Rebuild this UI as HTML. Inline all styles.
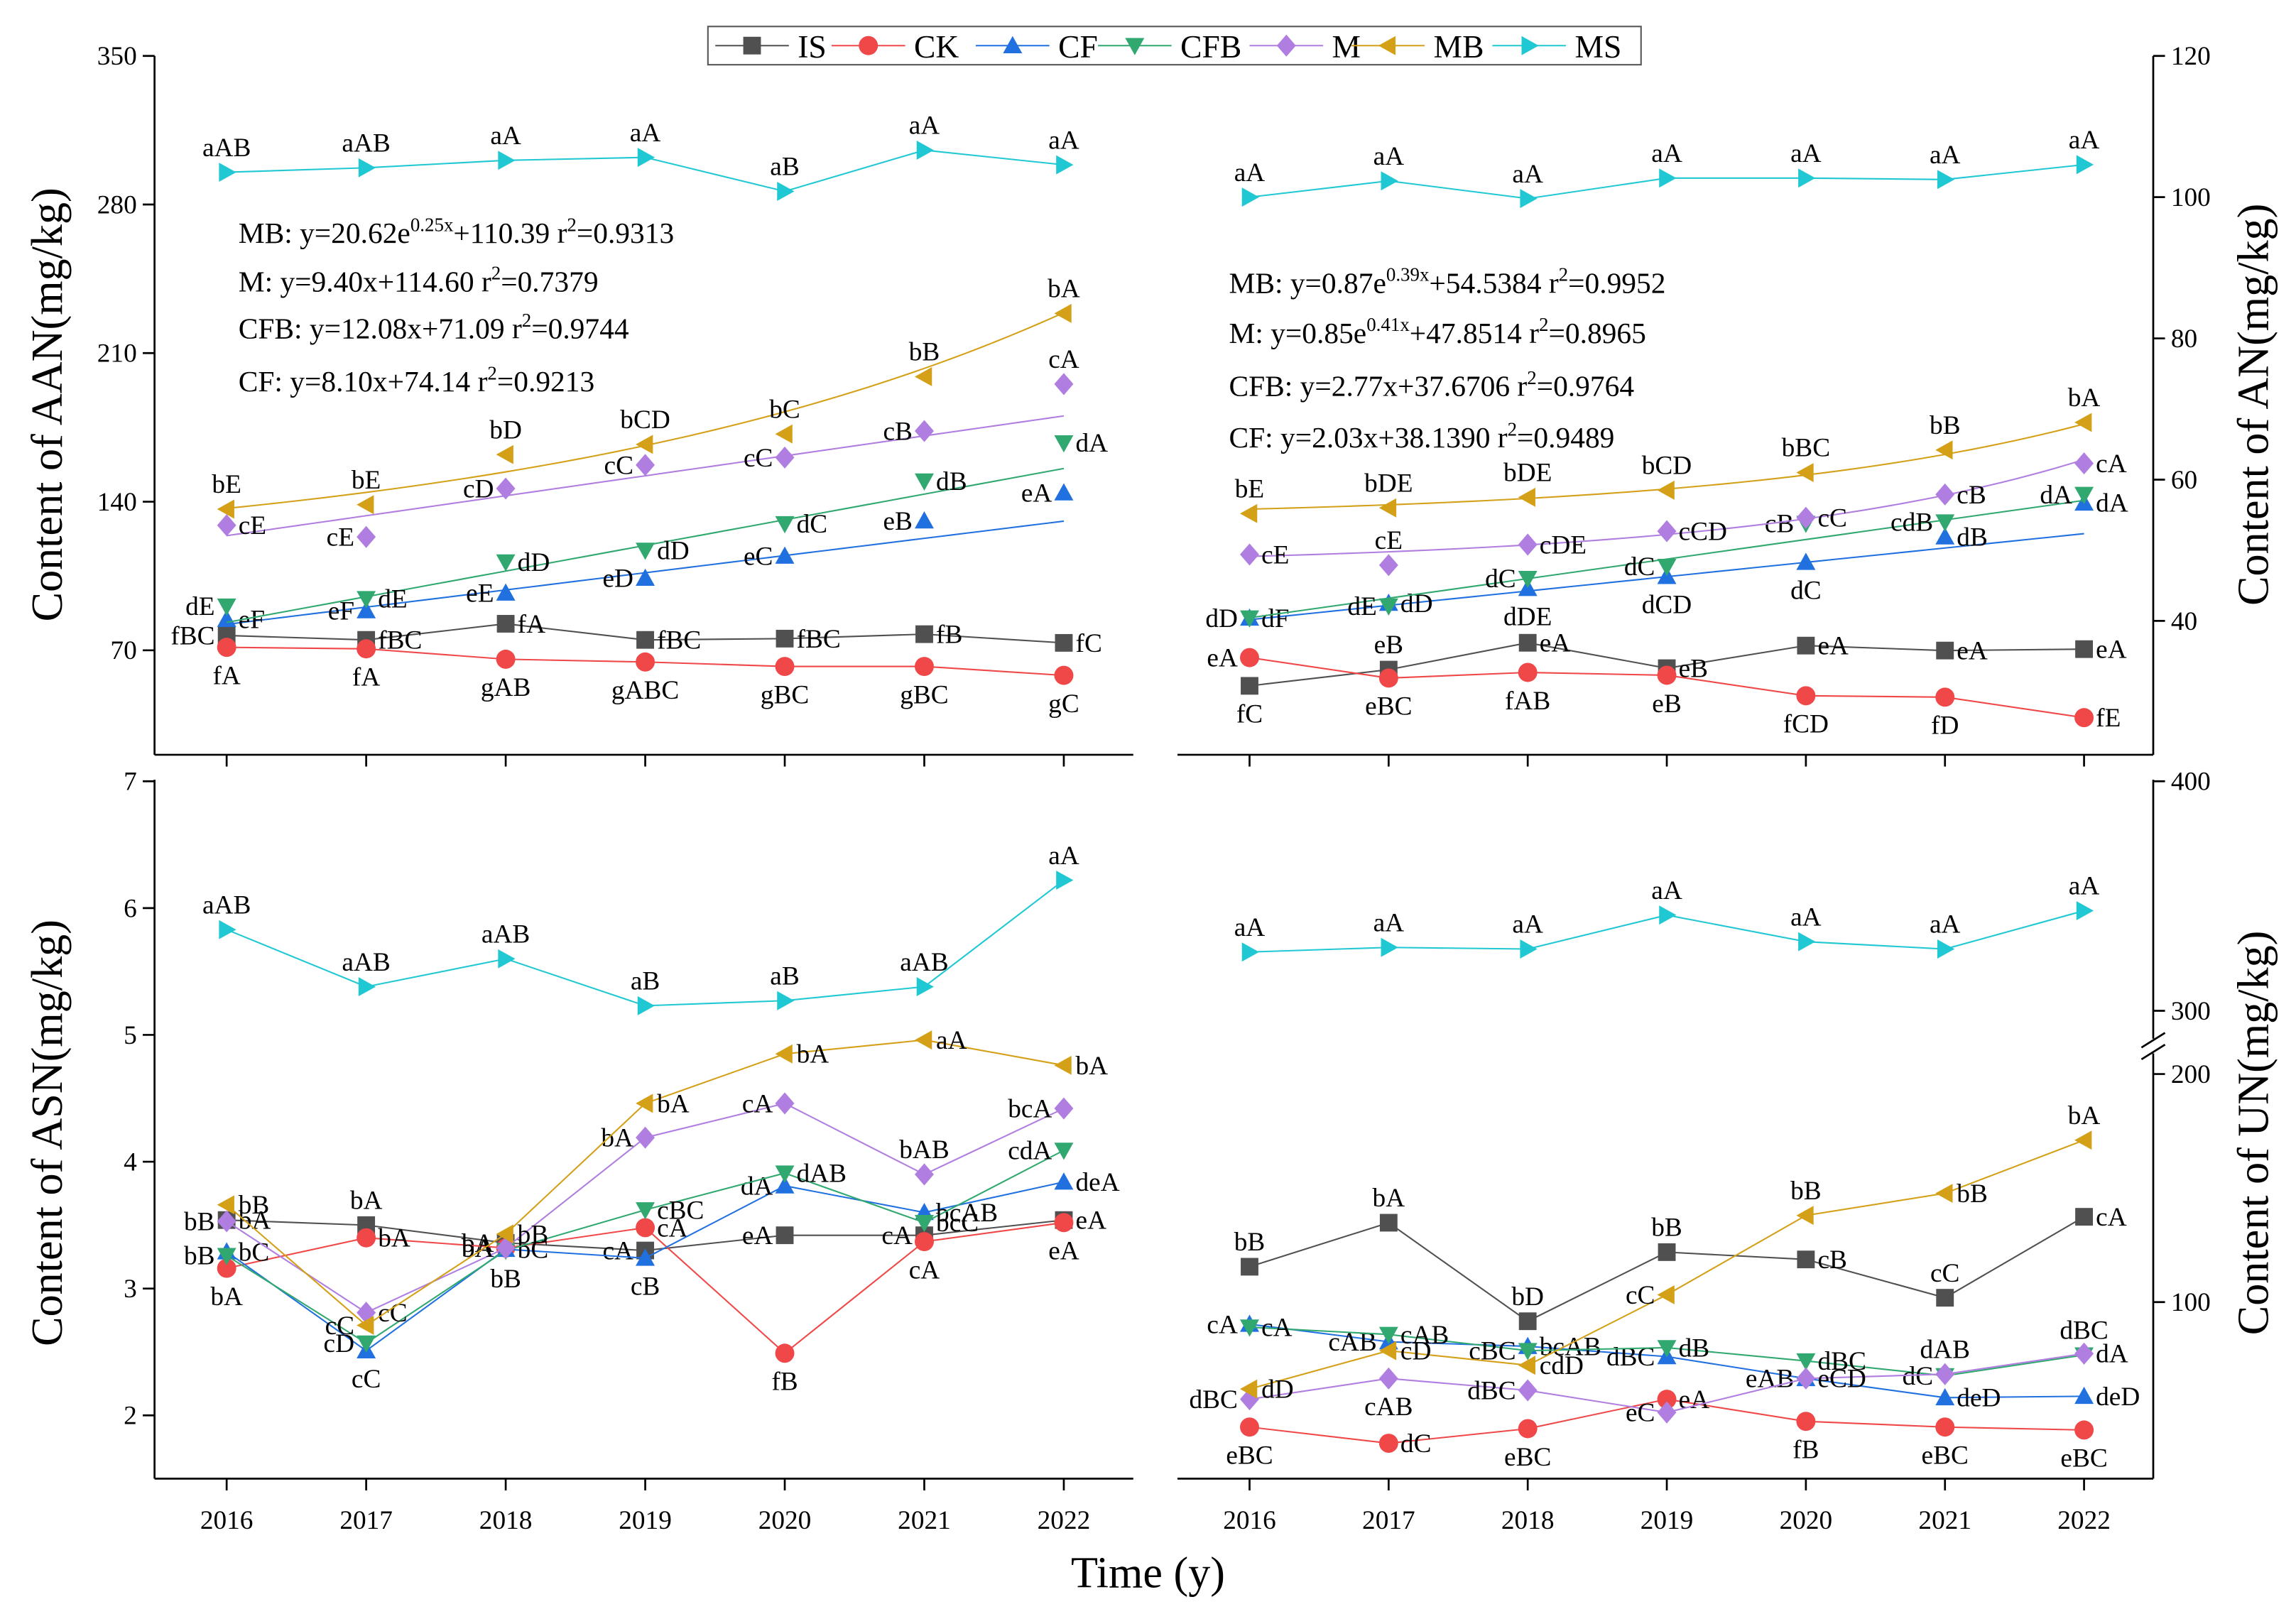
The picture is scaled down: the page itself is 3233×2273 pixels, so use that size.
<!DOCTYPE html>
<html><head><meta charset="utf-8"><style>
html,body{margin:0;padding:0;background:#fff;}
svg{display:block;font-family:"Liberation Serif",serif;}
svg text{font-family:"Liberation Serif",serif;}
</style></head><body>
<svg id="chart" xmlns="http://www.w3.org/2000/svg" width="3233" height="2273" viewBox="0 0 1560 1097" preserveAspectRatio="none"></svg>
<script>
const years=[2016,2017,2018,2019,2020,2021,2022];
const seriesNames=['IS','CK','CF','CFB','M','MB','MS'];
// AAN (top-left)
const aan_IS=[77,74.9,82.5,74.9,75.5,77.6,73.5];
const aan_CK=[71.4,70.7,65.8,64.5,62.4,62.4,58.2];
const aan_CF=[84.6,88.7,97,104,114.4,131,144.2];
const aan_CFB=[90.8,94.3,111.6,117.1,129.6,149.7,167.7];
const aan_M=[128.9,123.4,146.2,157.3,160.8,173.3,195.4];
const aan_MB=[136.5,138.6,162.2,167,171.9,198.9,228.7];
const aan_MS=[295.2,297.3,300.8,302.2,286.2,305.6,298.7];
// AN (top-right)
const an_IS=[30.8,33.1,36.9,33.3,36.5,35.8,36];
const an_CK=[34.8,31.9,32.7,32.3,29.4,29.2,26.3];
const an_CF=[40.4,42.5,44.6,46.3,48.3,51.9,56.7];
const an_CFB=[40.4,42.1,46,47.7,53.8,54,57.9];
const an_M=[49.4,47.9,50.8,52.7,54.6,57.9,62.3];
const an_MB=[55.2,56,57.5,58.5,61,64.2,68.1];
const an_MS=[100,102.3,99.8,102.7,102.7,102.5,104.6];
// ASN (bottom-left)
const asn_IS=[3.54,3.5,3.36,3.3,3.42,3.42,3.54];
const asn_CK=[3.16,3.4,3.32,3.48,2.49,3.37,3.52];
const asn_CF=[3.29,2.51,3.31,3.24,3.81,3.6,3.84];
const asn_CFB=[3.26,2.57,3.3,3.62,3.91,3.52,4.09];
const asn_M=[3.53,2.81,3.32,4.19,4.46,3.9,4.42];
const asn_MB=[3.66,2.71,3.43,4.46,4.85,4.96,4.76];
const asn_MS=[5.83,5.38,5.6,5.23,5.27,5.38,6.22];
// UN (bottom-right)
const un_IS=[115.5,134.8,91.6,121.9,118.7,101.9,137.4];
const un_CK=[45.2,38.1,44.5,57.4,47.7,45.2,43.9];
const un_CF=[90.3,82.6,80.6,76.1,66.5,58.1,58.7];
const un_CFB=[89,85.8,78.7,80,74.2,67.7,76.8];
const un_M=[57.4,66.5,61.3,51.6,66.5,68.4,77.4];
const un_MB=[61.9,78.7,72.3,103.2,138,147.7,171];
const un_MS=[325.6,327.6,326.9,341.7,330.1,326.9,343.6];
// tick labels
const aanTicks=[70,140,210,280,350];
const anTicks=[40,60,80,100,120];
const asnTicks=[2,3,4,5,6,7];
const unTicks=[100,200,300,400];
// significance letters
const aanLab={IS:['fBC','fBC','fA','fBC','fBC','fB','fC'],CK:['fA','fA','gAB','gABC','gBC','gBC','gC'],CF:['eF','eF','eE','eD','eC','eB','eA'],CFB:['dE','dE','dD','dD','dC','dB','dA'],M:['cE','cE','cD','cC','cC','cB','cA'],MB:['bE','bE','bD','bCD','bC','bB','bA'],MS:['aAB','aAB','aA','aA','aB','aA','aA']};
const anLab={IS:['fC','eB','eA','eB','eA','eA','eA'],CK:['eA','eBC','fAB','eB','fCD','fD','fE'],CF:['dF','dD','dDE','dCD','dC','dB','dA'],CFB:['dD','dE','dC','dC','cB','cdB','dA'],M:['cE','cE','cDE','cCD','cC','cB','cA'],MB:['bE','bDE','bDE','bCD','bBC','bB','bA'],MS:['aA','aA','aA','aA','aA','aA','aA']};
const asnLab={IS:['bA','bA','bA','cA','eA','cA','eA'],CK:['bA','bA','bA','cA','fB','cA','eA'],CF:['bC','cC','bC','cB','dA','bcAB','deA'],CFB:['bB','cD','bB','cBC','dAB','bcC','cdA'],M:['bB','cC','bA','bA','cA','bAB','bcA'],MB:['bB','cC','bB','bA','bA','aA','bA'],MS:['aAB','aAB','aAB','aB','aB','aAB','aA']};
const unLab={IS:['bB','bA','bD','bB','cB','cC','cA'],CK:['eBC','dC','eBC','eA','fB','eBC','eBC'],CF:['cA','cAB','bcAB','dBC','eAB','deD','deD'],CFB:['cA','cAB','cBC','dB','dBC','dC','dBC'],M:['dBC','cAB','dBC','eC','eCD','dAB','dA'],MB:['dD','cD','cdD','cC','bB','bB','bA'],MS:['aA','aA','aA','aA','aA','aA','aA']};
// label placement codes (a above, b below, l left, r right)
const aanPos={IS:['l','r','r','r','r','r','r'],CK:['b','b','b','b','b','b','b'],CF:['r','l','l','l','l','l','l'],CFB:['l','r','r','r','r','r','r'],M:['r','l','l','l','l','l','a'],MB:['a','a','a','a','a','a','a'],MS:['a','a','a','a','a','a','a']};
const anPos={IS:['b','a','r','r','r','r','r'],CK:['l','b','b','b','b','b','r'],CF:['r','r','b','b','b','r','r'],CFB:['l','l','l','l','l','l','l'],M:['r','a','r','r','r','r','r'],MB:['a','a','a','a','a','a','a'],MS:['a','a','a','a','a','a','a']};
const asnPos={IS:['r','a','l','l','l','l','r'],CK:['b','r','l','r','b','b','b'],CF:['r','b','r','b','l','r','r'],CFB:['l','l','b','r','r','r','l'],M:['l','r','l','l','l','a','l'],MB:['r','l','r','r','r','r','r'],MS:['a','a','a','a','a','a','a']};
const unPos={IS:['a','a','a','a','r','a','r'],CK:['b','r','b','r','b','b','b'],CF:['l','l','r','l','l','r','r'],CFB:['r','r','l','r','r','l','a'],M:['l','b','l','l','r','a','r'],MB:['r','r','r','l','a','r','a'],MS:['a','a','a','a','a','a','a']};

const colors={IS:'#505050',CK:'#f04848',CF:'#2070e0',CFB:'#30a870',M:'#b07ee0',MB:'#d4a018',MS:'#20c8d4'};
const NS='http://www.w3.org/2000/svg';
const svg=document.getElementById('chart');
function el(tag,attrs,parent){const e=document.createElementNS(NS,tag);for(const k in attrs)e.setAttribute(k,attrs[k]);(parent||svg).appendChild(e);return e;}
function txt(s,x,y,size,anchor,parent,extra){const t=el('text',Object.assign({x:x,y:y,'font-size':size,'text-anchor':anchor||'middle',fill:'#000','font-family':'Liberation Serif, serif'},extra||{}),parent);t.textContent=s;return t;}

const xL=i=>154+i*94.8;
const xR=i=>849+i*94.5;
const yAAN=v=>442-(v-70)*101/70;
const yAN=v=>422-(v-40)*96/20;
const yASN=v=>962-(v-2)*86.2;
const yUN=v=>v>=250?687-(v-300)*1.56:885-(v-100)*1.55;

function marker(g,s,x,y){
  const c=colors[s],r=6.5;let e;
  if(s==='IS')e=el('rect',{x:x-r+0.5,y:y-r+0.5,width:2*r-1,height:2*r-1,fill:c},g);
  else if(s==='CK')e=el('circle',{cx:x,cy:y,r:r,fill:c},g);
  else if(s==='CF')e=el('polygon',{points:`${x},${y-r} ${x+r},${y+r*0.8} ${x-r},${y+r*0.8}`,fill:c},g);
  else if(s==='CFB')e=el('polygon',{points:`${x},${y+r} ${x+r},${y-r*0.8} ${x-r},${y-r*0.8}`,fill:c},g);
  else if(s==='M')e=el('polygon',{points:`${x},${y-r-1} ${x+r},${y} ${x},${y+r+1} ${x-r},${y}`,fill:c},g);
  else if(s==='MB')e=el('polygon',{points:`${x-r},${y} ${x+r*0.8},${y-r} ${x+r*0.8},${y+r}`,fill:c},g);
  else e=el('polygon',{points:`${x+r},${y} ${x-r*0.8},${y-r} ${x-r*0.8},${y+r}`,fill:c},g);
  return e;
}
function label(g,s,x,y,p){
  if(p==='a')txt(s,x,y-11,18,'middle',g);
  else if(p==='b')txt(s,x,y+25,18,'middle',g);
  else if(p==='l')txt(s,x-8,y+6,18,'end',g);
  else txt(s,x+8,y+6,18,'start',g);
}

function panel(name,data,labs,pos,xf,yf,fits){
  const g=el('g',{});
  
  
  seriesNames.forEach(s=>{
    const vals=data[s];
    const sg=el('g',{},g);
    
    
    let d='';
    if(fits&&fits[s]){
      for(let k=0;k<=60;k++){const t=1+k*6/60;d+=(k?'L':'M')+(xf(t-1)).toFixed(2)+','+yf(fits[s](t)).toFixed(2);}
    } else {
      vals.forEach((v,i)=>{d+=(i?'L':'M')+xf(i)+','+yf(v);});
    }
    const ln=el('path',{d:d,fill:'none',stroke:colors[s],'stroke-width':1},sg);
    
    
    vals.forEach((v,i)=>{
      const m=marker(sg,s,xf(i),yf(v));
      
      
      label(sg,labs[s][i],xf(i),yf(v),pos[s][i]);
    });
  });
}

function axisLine(x1,y1,x2,y2,nm){const l=el('line',{x1:x1,y1:y1,x2:x2,y2:y2,stroke:'#000','stroke-width':1.3});}
function xTicks(xf,y,labels,nm){
  const g=el('g',{});
  years.forEach((yr,i)=>{el('line',{x1:xf(i),y1:y,x2:xf(i),y2:y+8,stroke:'#000','stroke-width':1.3},g);
    if(labels)txt(String(yr),xf(i),y+34,18,'middle',g);});
}
function yTicks(ticks,yf,x,side,nm){
  const g=el('g',{});
  ticks.forEach(t=>{const y=yf(t);const dx=side==='l'?-8:8;
    el('line',{x1:x,y1:y,x2:x+dx,y2:y,stroke:'#000','stroke-width':1.3},g);
    txt(String(t),side==='l'?x-12:x+12,y+6,18,side==='l'?'end':'start',g);});
}
axisLine(105,38,105,513,'aan-y-axis');axisLine(105,513,770,513,'aan-x-axis');
axisLine(1463,38,1463,513,'an-y-axis');axisLine(800,513,1463,513,'an-x-axis');
axisLine(105,530,105,1005,'asn-y-axis');axisLine(105,1005,770,1005,'asn-x-axis');
axisLine(1463,530,1463,706,'un-y-axis-upper');axisLine(1463,716,1463,1005,'un-y-axis-lower');axisLine(800,1005,1463,1005,'un-x-axis');
el('line',{x1:1455,y1:712,x2:1471,y2:702,stroke:'#000','stroke-width':1.3});
el('line',{x1:1455,y1:720,x2:1471,y2:710,stroke:'#000','stroke-width':1.3});
xTicks(xL,513,false,'aan-x-ticks');xTicks(xR,513,false,'an-x-ticks');
xTicks(xL,1005,true,'asn-x-ticks');xTicks(xR,1005,true,'un-x-ticks');
yTicks(aanTicks,yAAN,105,'l','aan-y-ticks');yTicks(anTicks,yAN,1463,'r','an-y-ticks');
yTicks(asnTicks,yASN,105,'l','asn-y-ticks');yTicks(unTicks,yUN,1463,'r','un-y-ticks');

let t;
t=txt('Content of AAN(mg/kg)',0,0,30,'middle',svg,{transform:'translate(42,275) rotate(-90)'});
t=txt('Content of ASN(mg/kg)',0,0,30,'middle',svg,{transform:'translate(42,770) rotate(-90)'});
t=txt('Content of AN(mg/kg)',0,0,30,'middle',svg,{transform:'translate(1541,275) rotate(-90)'});
t=txt('Content of UN(mg/kg)',0,0,30,'middle',svg,{transform:'translate(1541,770) rotate(-90)'});
t=txt('Time (y)',780,1079,30,'middle');

function eq(parts,x,y,nm){const e=el('text',{x:x,y:y,'font-size':20,fill:'#000','font-family':'Liberation Serif, serif'});
  parts.forEach(p=>{const ts=el('tspan',p[1]?{'font-size':13,dy:-8}:{dy:p[2]||0},e);ts.textContent=p[0];});}
eq([['MB: y=20.62e'],['0.25x',1],['+110.39 r',0,8],['2',1],['=0.9313',0,8]],162,165,'eq-aan-mb');
eq([['M: y=9.40x+114.60 r'],['2',1],['=0.7379',0,8]],162,198,'eq-aan-m');
eq([['CFB: y=12.08x+71.09 r'],['2',1],['=0.9744',0,8]],162,230,'eq-aan-cfb');
eq([['CF: y=8.10x+74.14 r'],['2',1],['=0.9213',0,8]],162,266,'eq-aan-cf');
eq([['MB: y=0.87e'],['0.39x',1],['+54.5384 r',0,8],['2',1],['=0.9952',0,8]],835,199,'eq-an-mb');
eq([['M: y=0.85e'],['0.41x',1],['+47.8514 r',0,8],['2',1],['=0.8965',0,8]],835,233,'eq-an-m');
eq([['CFB: y=2.77x+37.6706 r'],['2',1],['=0.9764',0,8]],835,269,'eq-an-cfb');
eq([['CF: y=2.03x+38.1390 r'],['2',1],['=0.9489',0,8]],835,304,'eq-an-cf');

const aanFits={MB:x=>20.62*Math.exp(0.25*x)+110.39,M:x=>9.40*x+114.60,CFB:x=>12.08*x+71.09,CF:x=>8.10*x+74.14};
const anFits={MB:x=>0.87*Math.exp(0.39*x)+54.5384,M:x=>0.85*Math.exp(0.41*x)+47.8514,CFB:x=>2.77*x+37.6706,CF:x=>2.03*x+38.1390};
panel('aan',{IS:aan_IS,CK:aan_CK,CF:aan_CF,CFB:aan_CFB,M:aan_M,MB:aan_MB,MS:aan_MS},aanLab,aanPos,xL,yAAN,aanFits);
panel('an',{IS:an_IS,CK:an_CK,CF:an_CF,CFB:an_CFB,M:an_M,MB:an_MB,MS:an_MS},anLab,anPos,xR,yAN,anFits);
panel('asn',{IS:asn_IS,CK:asn_CK,CF:asn_CF,CFB:asn_CFB,M:asn_M,MB:asn_MB,MS:asn_MS},asnLab,asnPos,xL,yASN,null);
panel('un',{IS:un_IS,CK:un_CK,CF:un_CF,CFB:un_CFB,M:un_M,MB:un_MB,MS:un_MS},unLab,unPos,xR,yUN,null);

const lg=el('g',{});
el('rect',{x:481,y:18,width:634,height:26,fill:'#fff',stroke:'#555','stroke-width':1},lg);
const legX=[486,565,663,746,849,918,1014];
seriesNames.forEach((s,i)=>{
  const eg=el('g',{},lg);
  
  
  const x=legX[i];
  el('line',{x1:x,y1:31,x2:x+50,y2:31,stroke:colors[s],'stroke-width':1},eg);
  marker(eg,s,x+25,31);
  txt(s,x+56,39,22,'start',eg);
});
</script>
</body></html>
